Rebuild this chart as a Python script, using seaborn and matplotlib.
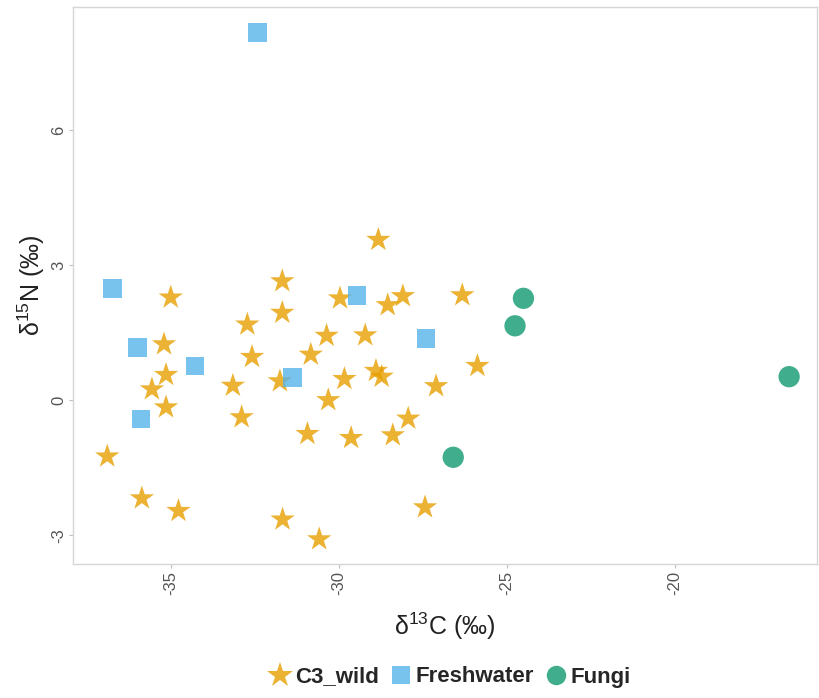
import pandas as pd
import numpy as np
import matplotlib.pyplot as plt
import seaborn as sns
from matplotlib.lines import Line2D

sns.set_style("white")
plt.rcParams['font.family'] = ['Liberation Sans', 'DejaVu Sans']
plt.rcParams['mathtext.fontset'] = 'custom'
plt.rcParams['mathtext.rm'] = 'Liberation Sans'
plt.rcParams['mathtext.it'] = 'Liberation Sans:italic'
plt.rcParams['mathtext.bf'] = 'Liberation Sans:bold'

# C3_wild
c3_d13c = [-35.01, -35.21, -35.15, -35.57, -35.15, -36.90, -32.73, -32.59, -33.16,
           -32.90, -31.69, -31.69, -31.76, -30.94, -30.84, -28.83, -29.97, -28.55,
           -28.10, -26.33, -30.37, -29.22, -25.88, -29.84, -28.90, -28.73, -27.11,
           -30.32, -27.94, -29.64, -28.40, -35.87, -34.78, -31.68, -30.59, -27.44]
c3_d15n = [2.28, 1.24, 0.56, 0.24, -0.16, -1.25, 1.68, 0.96, 0.32,
           -0.38, 2.64, 1.94, 0.42, -0.75, 1.01, 3.56, 2.26, 2.11,
           2.31, 2.33, 1.43, 1.44, 0.76, 0.47, 0.65, 0.52, 0.31,
           0.00, -0.41, -0.84, -0.78, -2.18, -2.46, -2.65, -3.09, -2.38]

# Freshwater
fw_d13c = [-32.43, -36.74, -36.00, -34.29, -35.90, -31.39, -29.47, -27.41]
fw_d15n = [8.16, 2.48, 1.17, 0.76, -0.42, 0.50, 2.32, 1.37]

# Fungi
fu_d13c = [-24.51, -24.76, -26.60, -16.60]
fu_d15n = [2.26, 1.65, -1.27, 0.52]

groups = ['C3_wild', 'Freshwater', 'Fungi']
colors = {'C3_wild': '#E69F00', 'Freshwater': '#56B4E9', 'Fungi': '#109A70'}
markers = {'C3_wild': '*', 'Freshwater': 's', 'Fungi': 'o'}
sizes = {'C3_wild': 340, 'Freshwater': 175, 'Fungi': 235}
x_ticks = [-35, -30, -25, -20]
y_ticks = [-3, 0, 3, 6]

df = pd.DataFrame({
    'd13C': c3_d13c + fw_d13c + fu_d13c,
    'd15N': c3_d15n + fw_d15n + fu_d15n,
    'group': ['C3_wild'] * len(c3_d13c) + ['Freshwater'] * len(fw_d13c) + ['Fungi'] * len(fu_d13c),
})

fig = plt.figure(figsize=(8.2, 6.98), dpi=100)
ax = fig.add_axes([73 / 820, 1 - 564 / 698, (817 - 73) / 820, (564 - 7) / 698])

sns.scatterplot(data=df, x='d13C', y='d15N', hue='group', style='group', size='group',
                palette=colors, markers=markers, sizes=sizes, hue_order=groups,
                alpha=0.8, linewidth=0, legend=False, ax=ax)

ax.set_xlim(-37.92, -15.77)
ax.set_ylim(-3.64, 8.73)
ax.set_xticks(x_ticks)
ax.set_yticks(y_ticks)
ax.set_xticklabels([str(t) for t in x_ticks], rotation=90)
ax.set_yticklabels([str(t) for t in y_ticks], rotation=90, va='center')
ax.tick_params(axis='both', which='both', length=3, width=0.8, color='#BDBDBD',
               labelcolor='#555555', labelsize=12, bottom=True, left=True, pad=2)
for sp in ax.spines.values():
    sp.set_color('#D6D6D6')
    sp.set_linewidth(1.0)

ax.set_xlabel('δ$^{13}$C (‰)', fontsize=18, color='#222222', labelpad=11)
ax.set_ylabel('δ$^{15}$N (‰)', fontsize=18, color='#222222', labelpad=3)

handles = [Line2D([0], [0], linestyle='none', marker=markers[g], color=colors[g],
                  alpha=0.8, markeredgewidth=0,
                  markersize={'C3_wild': 19, 'Freshwater': 13, 'Fungi': 14}[g])
           for g in groups]
leg = fig.legend(handles, groups, loc='center', bbox_to_anchor=(450 / 820, 1 - 677 / 698),
                 ncol=3, frameon=False, handletextpad=0.15, columnspacing=0.5,
                 handlelength=1.0, prop={'weight': 'bold', 'size': 16})

fig.savefig('out.png', dpi=100)
